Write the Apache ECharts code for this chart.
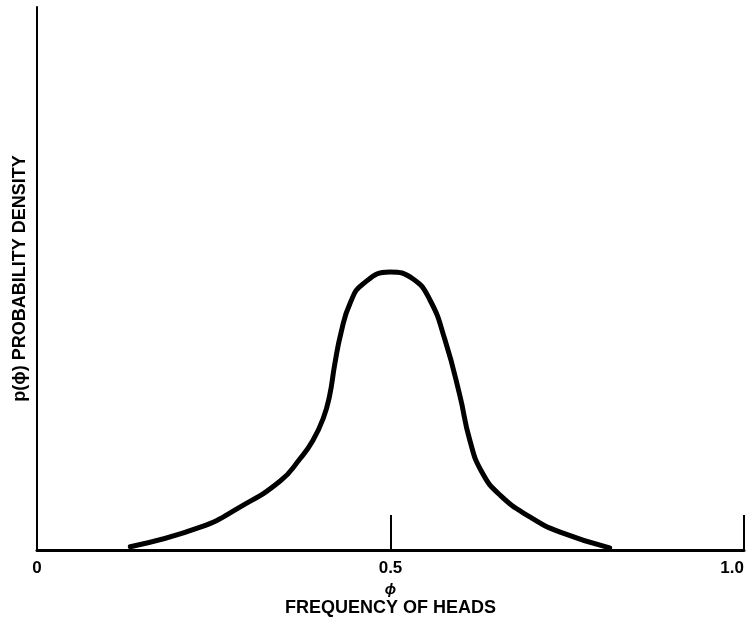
<!DOCTYPE html>
<html>
<head>
<meta charset="utf-8">
<script src="https://cdn.jsdelivr.net/npm/echarts@6/dist/echarts.min.js"></script>
<style>
  html, body { margin: 0; padding: 0; background: #fff; }
  #chart { width: 747px; height: 625px; }
</style>
</head>
<body>
<div id="chart"></div>
<script>
// frequency of heads (phi) and probability density
var phi = [0.132, 0.231, 0.287, 0.344, 0.372, 0.39, 0.405, 0.414, 0.421, 0.43, 0.443, 0.461, 0.499, 0.532, 0.556, 0.577, 0.598, 0.612, 0.629, 0.655, 0.697, 0.74, 0.81];
var density = [0.006, 0.042, 0.079, 0.127, 0.168, 0.201, 0.243, 0.285, 0.341, 0.4, 0.455, 0.49, 0.512, 0.499, 0.46, 0.387, 0.285, 0.203, 0.144, 0.101, 0.061, 0.033, 0.004];
var tickLabels = {0: '0', 0.5: '0.5', 1: '1.0'};
var xTitle = '{phi|\u03d5}\nFREQUENCY OF HEADS';
var yTitle = 'p(\u03d5) PROBABILITY DENSITY';

var points = phi.map(function (x, i) { return [x, density[i]]; });

var myChart = echarts.init(document.getElementById('chart'));
var font = 'Liberation Sans, Arial, sans-serif';

var option = {
  backgroundColor: '#fff',
  animation: false,
  grid: { left: 37, right: 3, top: 7, bottom: 75 },
  xAxis: {
    type: 'value',
    min: 0,
    max: 1,
    interval: 0.5,
    name: xTitle,
    nameLocation: 'middle',
    nameGap: 32,
    nameTextStyle: {
      color: '#000', fontFamily: font, fontWeight: 'bold', fontSize: 18, lineHeight: 20,
      rich: { phi: { fontFamily: font, fontWeight: 'bold', fontStyle: 'italic', fontSize: 15, lineHeight: 16, color: '#000' } }
    },
    axisLine: { show: true, lineStyle: { color: '#000', width: 3 } },
    axisTick: { show: true, inside: true, length: 35, lineStyle: { color: '#000', width: 2 } },
    axisLabel: {
      color: '#000', fontFamily: font, fontWeight: 'bold', fontSize: 17, margin: 10,
      alignMaxLabel: 'right',
      formatter: function (v) { return tickLabels[v]; }
    },
    splitLine: { show: false }
  },
  yAxis: {
    type: 'value',
    min: 0,
    max: 1,
    name: yTitle,
    nameLocation: 'middle',
    nameGap: 8,
    nameTextStyle: { color: '#000', fontFamily: font, fontWeight: 'bold', fontSize: 18 },
    axisLine: { show: true, lineStyle: { color: '#000', width: 2 } },
    axisTick: { show: false },
    axisLabel: { show: false },
    splitLine: { show: false }
  },
  series: [{
    type: 'line',
    data: points,
    smooth: 0.5,
    symbol: 'none',
    lineStyle: { color: '#000', width: 5, cap: 'round' }
  }]
};
myChart.setOption(option);
</script>
</body>
</html>
